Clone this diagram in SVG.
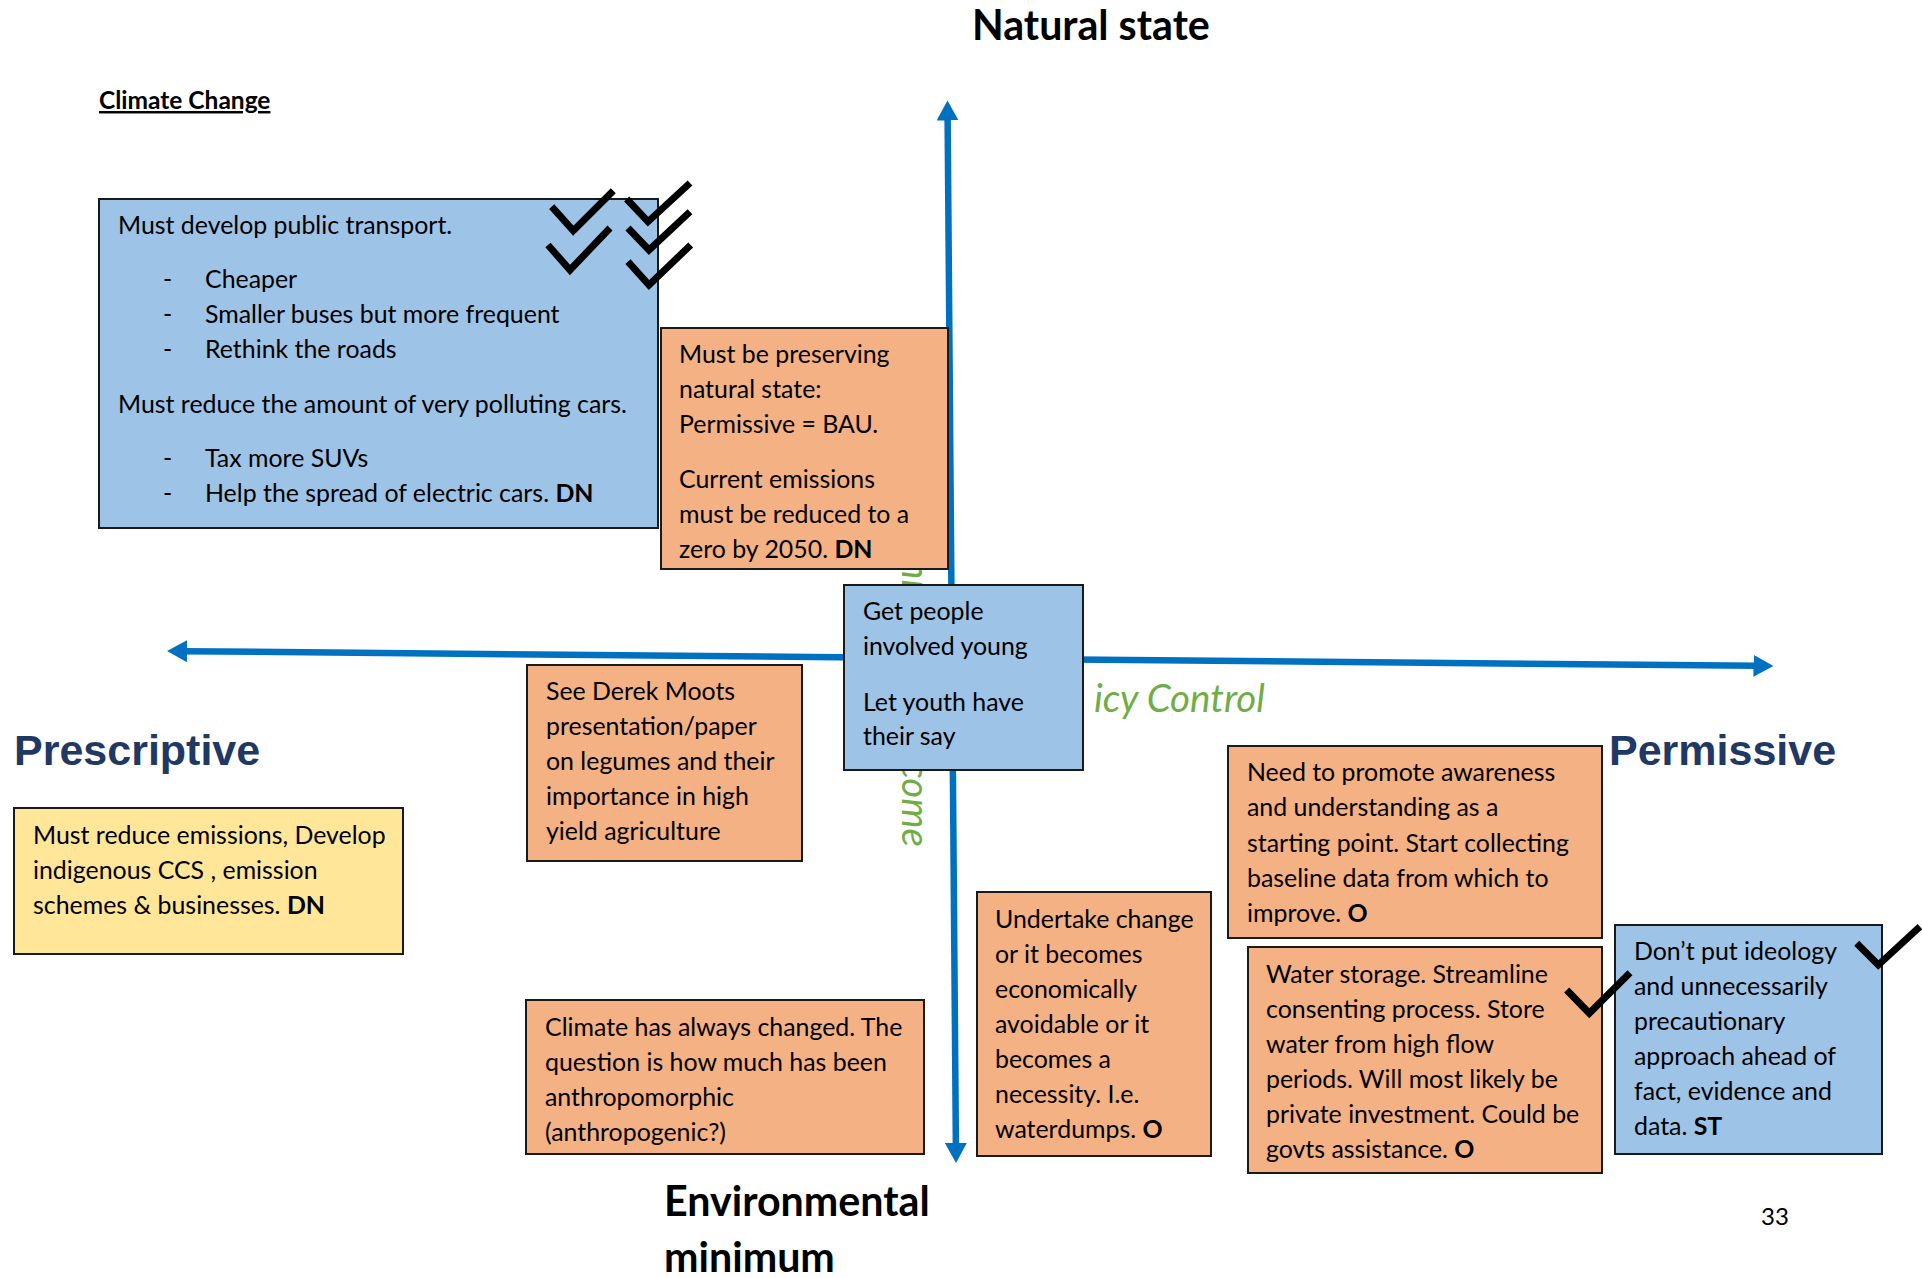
<svg xmlns="http://www.w3.org/2000/svg" width="1922" height="1278" viewBox="0 0 1922 1278">
<style>
.bg{fill:#ffffff}
.box{stroke:#1a1a1a;stroke-width:2}
.blue{fill:#9DC3E6}
.orange{fill:#F4B183}
.yellow{fill:#FFE699}
.t{font-family:Lato,"Open Sans",sans-serif;font-size:24.9px;fill:#000}
.b{font-weight:bold}
.head{font-family:Lato,"Open Sans",sans-serif;font-size:41.2px;font-weight:bold;fill:#000}
.pole{font-family:"Liberation Sans",Arial,sans-serif;font-size:43px;font-weight:bold;fill:#1F3864}
.green{font-family:Lato,"Open Sans",sans-serif;font-size:38.5px;font-style:italic;fill:#70AD47}
.axis{stroke:#0070C0;stroke-width:6.5;fill:none}
.check{fill:none;stroke:#000;stroke-width:7;stroke-linejoin:miter;stroke-linecap:butt}
</style>
<defs>
<marker id="arr" viewBox="0 0 20 22" refX="4" refY="11" markerWidth="20" markerHeight="22" markerUnits="userSpaceOnUse" orient="auto-start-reverse">
<path d="M0,0 L20,11 L0,22 z" fill="#0070C0"/>
</marker>
</defs>
<rect class="bg" x="0" y="0" width="1922" height="1278"/>

<g id="connectors">
<line class="axis" x1="947.6" y1="116.5" x2="955.9" y2="1147" marker-start="url(#arr)" marker-end="url(#arr)"/>
<line class="axis" x1="183" y1="651.15" x2="1757.5" y2="665.85" marker-start="url(#arr)" marker-end="url(#arr)"/>
</g>

<g id="axis-labels">
<text class="green" x="1265" y="711.5" text-anchor="end">Pol<tspan dx="10">icy Control</tspan></text>
<text class="green" transform="translate(902,847) rotate(90)" text-anchor="end">Environmental Outcome</text>
</g>

<g id="title">
<text class="t b" x="99" y="109" style="font-size:24.5px;text-decoration:underline">Climate Change</text>
</g>

<g id="node-transport">
<rect class="box blue" x="99" y="199" width="559" height="329"/>
<text class="t" x="118" y="234">Must develop public transport.</text>
<text class="t" x="163" y="288">-</text><text class="t" x="205" y="288">Cheaper</text>
<text class="t" x="163" y="323">-</text><text class="t" x="205" y="323">Smaller buses but more frequent</text>
<text class="t" x="163" y="358">-</text><text class="t" x="205" y="358">Rethink the roads</text>
<text class="t" x="118" y="413">Must reduce the amount of very polluting cars.</text>
<text class="t" x="163" y="467">-</text><text class="t" x="205" y="467">Tax more SUVs</text>
<text class="t" x="163" y="502">-</text><text class="t" x="205" y="502">Help the spread of electric cars. <tspan class="b">DN</tspan></text>
</g>

<g id="node-preserving">
<rect class="box orange" x="661" y="328" width="287" height="241"/>
<text class="t" x="679" y="363">Must be preserving</text>
<text class="t" x="679" y="398">natural state:</text>
<text class="t" x="679" y="433">Permissive = BAU.</text>
<text class="t" x="679" y="488">Current emissions</text>
<text class="t" x="679" y="523">must be reduced to a</text>
<text class="t" x="679" y="558">zero by 2050. <tspan class="b">DN</tspan></text>
</g>

<g id="node-youth">
<rect class="box blue" x="844" y="585" width="239" height="185"/>
<text class="t" x="863" y="620">Get people</text>
<text class="t" x="863" y="655">involved young</text>
<text class="t" x="863" y="711">Let youth have</text>
<text class="t" x="863" y="745">their say</text>
</g>

<g id="node-legumes">
<rect class="box orange" x="527" y="665" width="275" height="196"/>
<text class="t" x="546" y="700">See Derek Moots</text>
<text class="t" x="546" y="735">presentation/paper</text>
<text class="t" x="546" y="770">on legumes and their</text>
<text class="t" x="546" y="805">importance in high</text>
<text class="t" x="546" y="840">yield agriculture</text>
</g>

<g id="node-emissions">
<rect class="box yellow" x="14" y="808" width="389" height="146"/>
<text class="t" x="33" y="844">Must reduce emissions, Develop</text>
<text class="t" x="33" y="879">indigenous CCS , emission</text>
<text class="t" x="33" y="914">schemes &amp; businesses. <tspan class="b">DN</tspan></text>
</g>

<g id="node-climate">
<rect class="box orange" x="526" y="1000" width="398" height="154"/>
<text class="t" x="545" y="1036">Climate has always changed. The</text>
<text class="t" x="545" y="1071">question is how much has been</text>
<text class="t" x="545" y="1106">anthropomorphic</text>
<text class="t" x="545" y="1141">(anthropogenic?)</text>
</g>

<g id="node-undertake">
<rect class="box orange" x="977" y="892" width="234" height="264"/>
<text class="t" x="995" y="928">Undertake change</text>
<text class="t" x="995" y="963">or it becomes</text>
<text class="t" x="995" y="998">economically</text>
<text class="t" x="995" y="1033">avoidable or it</text>
<text class="t" x="995" y="1068">becomes a</text>
<text class="t" x="995" y="1103">necessity. I.e.</text>
<text class="t" x="995" y="1138">waterdumps. <tspan class="b">O</tspan></text>
</g>

<g id="node-awareness">
<rect class="box orange" x="1228" y="746" width="374" height="192"/>
<text class="t" x="1247" y="781">Need to promote awareness</text>
<text class="t" x="1247" y="816">and understanding as a</text>
<text class="t" x="1247" y="852">starting point. Start collecting</text>
<text class="t" x="1247" y="887">baseline data from which to</text>
<text class="t" x="1247" y="922">improve. <tspan class="b">O</tspan></text>
</g>

<g id="node-water">
<rect class="box orange" x="1248" y="947" width="354" height="226"/>
<text class="t" x="1266" y="983">Water storage. Streamline</text>
<text class="t" x="1266" y="1018">consenting process. Store</text>
<text class="t" x="1266" y="1053">water from high flow</text>
<text class="t" x="1266" y="1088">periods. Will most likely be</text>
<text class="t" x="1266" y="1123">private investment. Could be</text>
<text class="t" x="1266" y="1158">govts assistance. <tspan class="b">O</tspan></text>
</g>

<g id="node-ideology">
<rect class="box blue" x="1615" y="925" width="267" height="229"/>
<text class="t" x="1634" y="960">Don’t put ideology</text>
<text class="t" x="1634" y="995">and unnecessarily</text>
<text class="t" x="1634" y="1030">precautionary</text>
<text class="t" x="1634" y="1065">approach ahead of</text>
<text class="t" x="1634" y="1100">fact, evidence and</text>
<text class="t" x="1634" y="1135">data. <tspan class="b">ST</tspan></text>
</g>

<g id="checkmarks">
<polyline class="check" points="551.7,206.7 573.3,230.7 613.3,190.7"/>
<polyline class="check" points="548,245 570,270 610,228"/>
<polyline class="check" points="626.7,199 648,221.7 690,183"/>
<polyline class="check" points="628,228 649,250 690,211.7"/>
<polyline class="check" points="628,261.7 649,285 690.7,245"/>
<polyline class="check" points="1566.7,990 1589.3,1013.3 1630,972.7"/>
<polyline class="check" points="1856.7,943.3 1878.3,965 1920,926.7"/>
</g>

<g id="pole-labels">
<text class="head" x="972" y="40">Natural state</text>
<text class="head" x="664" y="1216">Environmental</text>
<text class="head" x="664" y="1272">minimum</text>
<text class="pole" x="14" y="765">Prescriptive</text>
<text class="pole" x="1609" y="765">Permissive</text>
<text class="t" x="1775" y="1225" text-anchor="middle" style="font-size:24px">33</text>
</g>
</svg>
